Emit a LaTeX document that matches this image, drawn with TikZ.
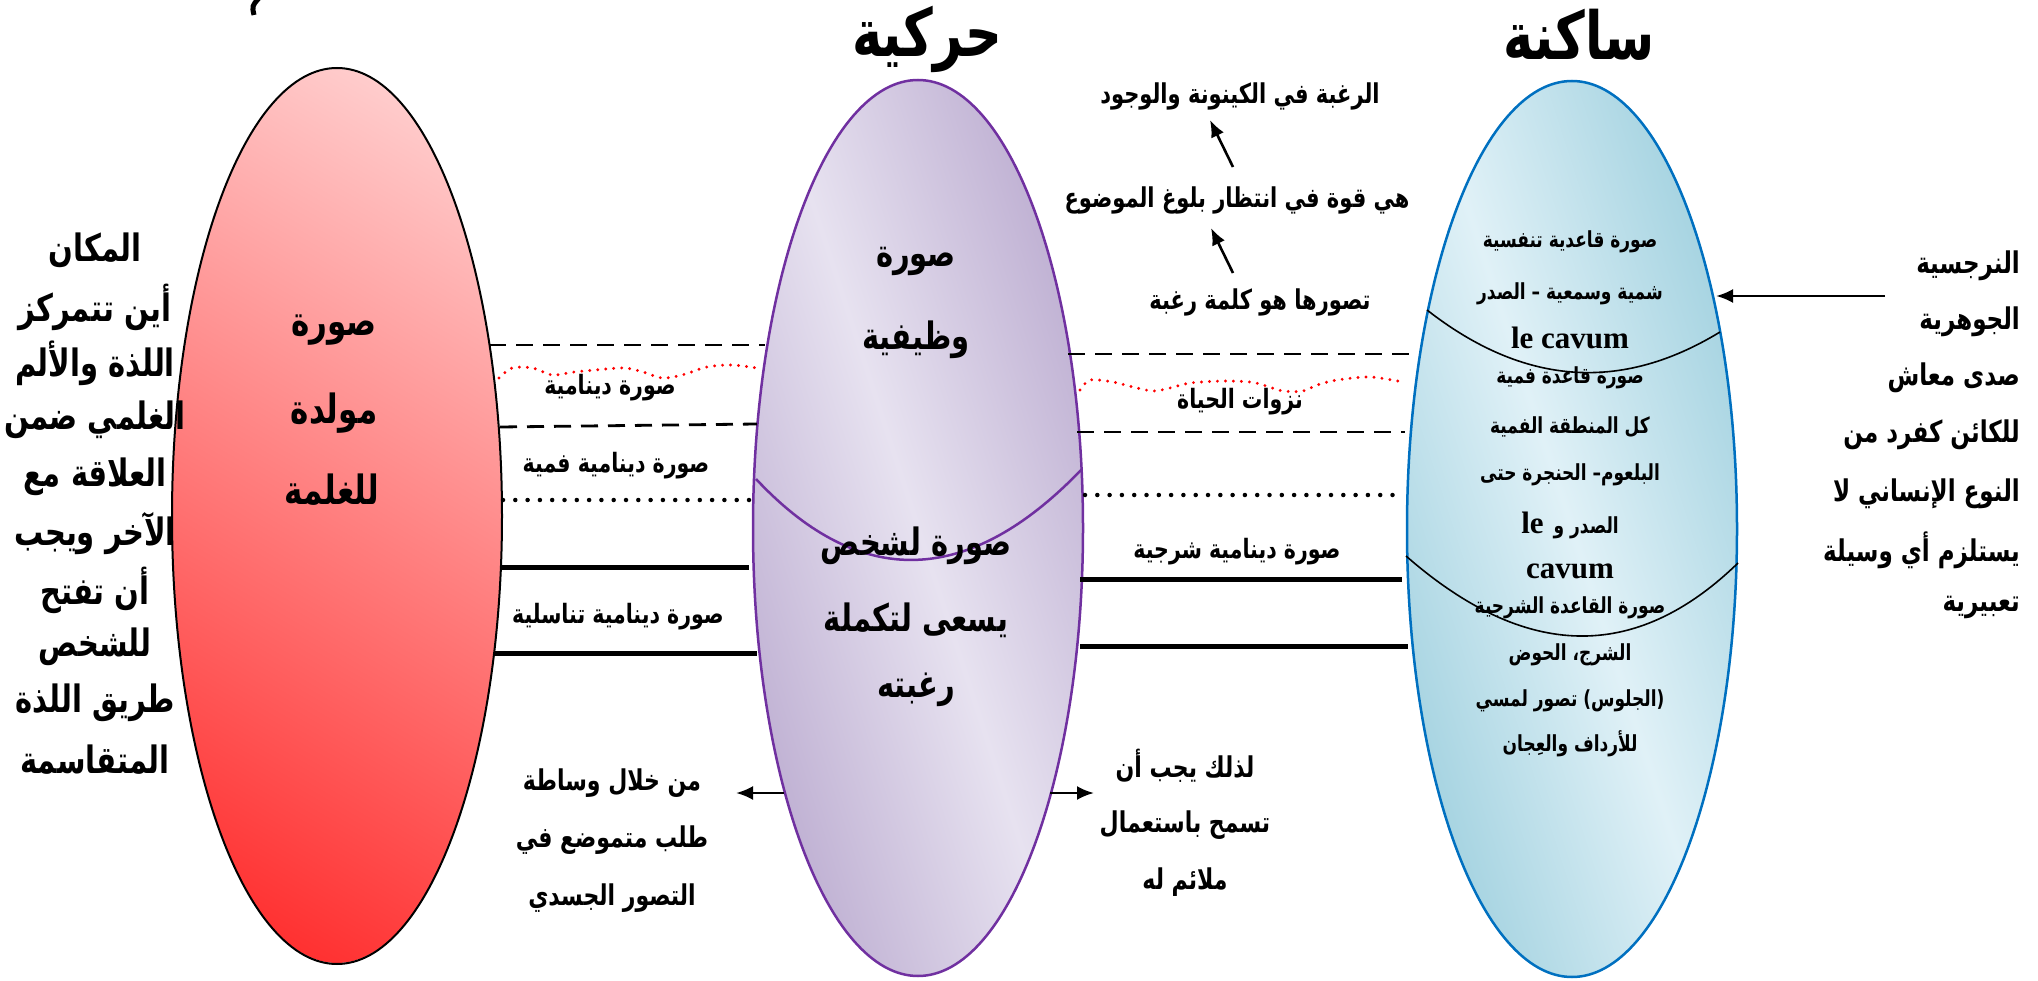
\documentclass[tikz,border=0pt]{standalone}
\usepackage{graphicx}
\usepackage{fontspec}
\usetikzlibrary{shapes.geometric,arrows.meta}
\TeXXeTstate=1
\newfontfamily\arabicfont[Script=Arabic]{DejaVu Sans}
\newfontfamily\latinfont{Liberation Serif}
% Arabic run, set right to left and drawn a little taller
\newcommand{\ArTxt}[1]{\scalebox{1}[1.3]{\beginR#1\endR}}

\definecolor{redDeep}{RGB}{255,48,48}
\definecolor{redPale}{RGB}{255,205,205}
\definecolor{lavDark}{RGB}{190,175,210}
\definecolor{lavLight}{RGB}{231,226,240}
\definecolor{lavEdge}{RGB}{112,48,160}
\definecolor{skyDark}{RGB}{163,210,224}
\definecolor{skyLight}{RGB}{224,241,247}
\definecolor{skyEdge}{RGB}{0,112,192}

\tikzset{
  blob/.style={ellipse, minimum width=330pt, minimum height=896pt, inner sep=0pt},
  txt/.style={inner sep=0pt},
  ttl/.style={txt, font=\arabicfont\bfseries\fontsize{51}{58}\selectfont},
  big/.style={txt, font=\arabicfont\bfseries\fontsize{29}{34}\selectfont},
  bigger/.style={txt, font=\arabicfont\bfseries\fontsize{31}{36}\selectfont},
  colL/.style={txt, font=\arabicfont\bfseries\fontsize{29}{35}\selectfont},
  colR/.style={txt, font=\arabicfont\bfseries\fontsize{23}{28}\selectfont},
  lab/.style={txt, font=\arabicfont\bfseries\fontsize{20.5}{25}\selectfont},
  mid/.style={txt, font=\arabicfont\bfseries\fontsize{21}{26}\selectfont},
  low/.style={txt, font=\arabicfont\bfseries\fontsize{22}{27}\selectfont},
  inb/.style={txt, font=\arabicfont\bfseries\fontsize{17}{21}\selectfont},
  lat/.style={txt, font=\latinfont\bfseries\fontsize{31}{36}\selectfont},
  dashline/.style={line width=2.8pt, dash pattern=on 17pt off 10pt},
  reddots/.style={red, line width=3.2pt, line cap=round, dash pattern=on 0pt off 8pt},
  blackdots/.style={line width=4.5pt, line cap=round, dash pattern=on 0pt off 12.3pt},
  heavy/.style={line width=5pt},
  arr/.style={line width=2.6pt, -{Latex[length=17pt,width=14pt]}},
}

\begin{document}
\begin{tikzpicture}[x=1pt,y=-1pt]
\useasboundingbox (0,0) rectangle (2038,981);

% gradient fills, clipped to the oval outlines
\begin{scope}
  \clip (337,516) ellipse [x radius=165, y radius=447];
  \shade[transform canvas={rotate around={60:(337,516)}}, left color=redDeep, right color=redPale]
    (-63,-184) rectangle (737,1216);
\end{scope}
\begin{scope}
  \clip (918,528) ellipse [x radius=165, y radius=448];
  \shade[transform canvas={rotate around={18:(918,528)}}, left color=lavDark, right color=lavDark, middle color=lavLight]
    (693,-172) rectangle (1143,1228);
\end{scope}
\begin{scope}
  \clip (1572,529) ellipse [x radius=166, y radius=449];
  \shade[transform canvas={rotate around={18:(1572,529)}}, left color=skyDark, right color=skyDark, middle color=skyLight]
    (1347,-171) rectangle (1797,1229);
\end{scope}

% the three ovals
\node[blob, draw=black, line width=2pt] (redblob) at (337,516) {};
\node[blob, draw=lavEdge, line width=2.5pt] (lavblob) at (918,528) {};
\node[blob, draw=skyEdge, line width=2.5pt] (skyblob) at (1572,529) {};

% remnant stroke at the top edge
\draw[line width=5pt] (259,-2) .. controls (252,6) .. (254,15);

% titles
\node[ttl, anchor=base] (tMove) at (927,57) {\ArTxt{حركية}};
\node[ttl, anchor=base] (tStill) at (1579,60) {\ArTxt{ساكنة}};

% separators between the red and the lavender oval
\coordinate (l1a) at (489,345); \coordinate (l1b) at (765,345);
\coordinate (l2a) at (500,427); \coordinate (l2b) at (757,424);
\coordinate (l3a) at (503,500); \coordinate (l3b) at (752,500);
\coordinate (l4a) at (500,567); \coordinate (l4b) at (749,567);
\coordinate (l5a) at (494,653); \coordinate (l5b) at (757,653);
\draw[dashline] (l1a) -- (l1b);
\draw[dashline] (l2a) -- (l2b);
\draw[blackdots] (l3a) -- (l3b);
\draw[heavy] (l4a) -- (l4b);
\draw[heavy] (l5a) -- (l5b);
\draw[reddots] plot[smooth] coordinates {(499,378) (512,368) (533,368) (552,375) (574,372) (595,370) (624,368) (643,372) (662,378) (682,375) (707,367) (732,365) (757,368)};

% separators between the lavender and the blue oval
\coordinate (r1a) at (1068,354); \coordinate (r1b) at (1412,354);
\coordinate (r2a) at (1077,432); \coordinate (r2b) at (1405,432);
\coordinate (r3a) at (1085,495); \coordinate (r3b) at (1403,495);
\coordinate (r4a) at (1080,579); \coordinate (r4b) at (1402,579);
\coordinate (r5a) at (1080,646); \coordinate (r5b) at (1408,646);
\draw[dashline] (r1a) -- (r1b);
\draw[dashline] (r2a) -- (r2b);
\draw[blackdots] (r3a) -- (r3b);
\draw[heavy] (r4a) -- (r4b);
\draw[heavy] (r5a) -- (r5b);
\draw[reddots] plot[smooth] coordinates {(1080,390) (1090,380) (1113,382) (1133,387) (1153,391) (1170,388) (1190,383) (1223,381) (1250,382) (1263,385) (1283,391) (1303,391) (1317,385) (1337,380) (1370,377) (1403,382)};

% curved partitions inside the ovals
\draw[lavEdge, line width=2.5pt] (756,479) .. controls (860,590) and (969,587) .. (1082,469);
\draw[line width=1.6pt] (1427,310) .. controls (1523,385) and (1620,393) .. (1720,332);
\draw[line width=1.6pt] (1406,556) .. controls (1525,660) and (1635,663) .. (1738,563);

% red oval text
\node[bigger] (rd1) at (334,330) {\ArTxt{صورة}};
\node[bigger] (rd2) at (334,413) {\ArTxt{مولدة}};
\node[bigger] (rd3) at (332,490) {\ArTxt{للغلمة}};

% lavender oval text
\node[big] (lv1) at (916,261) {\ArTxt{صورة}};
\node[big] (lv2) at (916,340) {\ArTxt{وظيفية}};
\node[big] (lv3) at (916,546) {\ArTxt{صورة لشخص}};
\node[big] (lv4) at (916,620) {\ArTxt{يسعى لتكملة}};
\node[big] (lv5) at (916,690) {\ArTxt{رغبته}};

% blue oval text
\node[inb] (sk1) at (1570,242) {\ArTxt{صورة قاعدية تنفسية}};
\node[inb] (sk2) at (1570,294) {\ArTxt{شمية وسمعية – الصدر}};
\node[lat] (sk3) at (1570,338) {le cavum};
\node[inb] (sk4) at (1570,378) {\ArTxt{صورة قاعدة فمية}};
\node[inb] (sk5) at (1570,427) {\ArTxt{كل المنطقة الفمية}};
\node[inb] (sk6) at (1570,475) {\ArTxt{البلعوم– الحنجرة حتى}};
\node[inb] (sk7) at (1570,525) {{\latinfont\bfseries\fontsize{31}{36}\selectfont le}\hspace{10pt}\ArTxt{الصدر و}};
\node[lat] (sk8) at (1570,571) {cavum};
\node[inb] (sk9) at (1570,608) {\ArTxt{صورة القاعدة الشرجية}};
\node[inb] (sk10) at (1570,655) {\ArTxt{الشرج، الحوض}};
\node[inb] (sk11) at (1570,701) {\ArTxt{(الجلوس) تصور لمسي}};
\node[inb] (sk12) at (1570,744) {\ArTxt{للأرداف والعِجان}};

% band labels
\node[lab] (bd1) at (610,388) {\ArTxt{صورة دينامية}};
\node[lab] (bd2) at (616,466) {\ArTxt{صورة دينامية فمية}};
\node[lab] (bd3) at (618,617) {\ArTxt{صورة دينامية تناسلية}};
\node[lab] (bd4) at (1240,402) {\ArTxt{نزوات الحياة}};
\node[lab] (bd5) at (1237,552) {\ArTxt{صورة دينامية شرجية}};

% left column
\node[colL] (lc1) at (95,250) {\ArTxt{المكان}};
\node[colL] (lc2) at (95,307) {\ArTxt{أين تتمركز}};
\node[colL] (lc3) at (95,363) {\ArTxt{اللذة والألم}};
\node[colL] (lc4) at (95,420) {\ArTxt{الغلمي ضمن}};
\node[colL] (lc5) at (95,477) {\ArTxt{العلاقة مع}};
\node[colL] (lc6) at (95,533) {\ArTxt{الآخر ويجب}};
\node[colL] (lc7) at (95,590) {\ArTxt{أن تفتح}};
\node[colL] (lc8) at (95,647) {\ArTxt{للشخص}};
\node[colL] (lc9) at (95,703) {\ArTxt{طريق اللذة}};
\node[colL] (lc10) at (95,760) {\ArTxt{المتقاسمة}};

% right column
\node[colR, anchor=east] (rc1) at (2020,266) {\ArTxt{النرجسية}};
\node[colR, anchor=east] (rc2) at (2020,322) {\ArTxt{الجوهرية}};
\node[colR, anchor=east] (rc3) at (2020,378) {\ArTxt{صدى معاش}};
\node[colR, anchor=east] (rc4) at (2020,435) {\ArTxt{للكائن كفرد من}};
\node[colR, anchor=east] (rc5) at (2020,494) {\ArTxt{النوع الإنساني لا}};
\node[colR, anchor=east] (rc6) at (2020,550) {\ArTxt{يستلزم أي وسيلة}};
\node[colR, anchor=east] (rc7) at (2020,607) {\ArTxt{تعبيرية}};
\coordinate (nrsTail) at (1885,296);
\coordinate (nrsTip) at (1716,296);
\draw[arr] (nrsTail) -- (nrsTip);

% chain of statements above the middle band
\node[mid] (up1) at (1240,96) {\ArTxt{الرغبة في الكينونة والوجود}};
\node[mid] (up2) at (1237,200) {\ArTxt{هي قوة في انتظار بلوغ الموضوع}};
\node[mid] (up3) at (1260,302) {\ArTxt{تصورها هو كلمة رغبة}};
\coordinate (u1s) at (1233,167); \coordinate (u1e) at (1210,120);
\coordinate (u2s) at (1233,273); \coordinate (u2e) at (1211,228);
\draw[arr] (u1s) -- (u1e);
\draw[arr] (u2s) -- (u2e);

% statements below
\node[low] (dl1) at (612,783) {\ArTxt{من خلال وساطة}};
\node[low] (dl2) at (612,840) {\ArTxt{طلب متموضع في}};
\node[low] (dl3) at (612,898) {\ArTxt{التصور الجسدي}};
\node[low] (dr1) at (1185,766) {\ArTxt{لذلك يجب أن}};
\node[low] (dr2) at (1185,825) {\ArTxt{تسمح باستعمال}};
\node[low] (dr3) at (1185,882) {\ArTxt{ملائم له}};
\coordinate (dlTail) at (784,793); \coordinate (dlTip) at (736,793);
\coordinate (drTail) at (1050,793); \coordinate (drTip) at (1094,793);
\draw[arr] (dlTail) -- (dlTip);
\draw[arr] (drTail) -- (drTip);
\end{tikzpicture}
\end{document}
